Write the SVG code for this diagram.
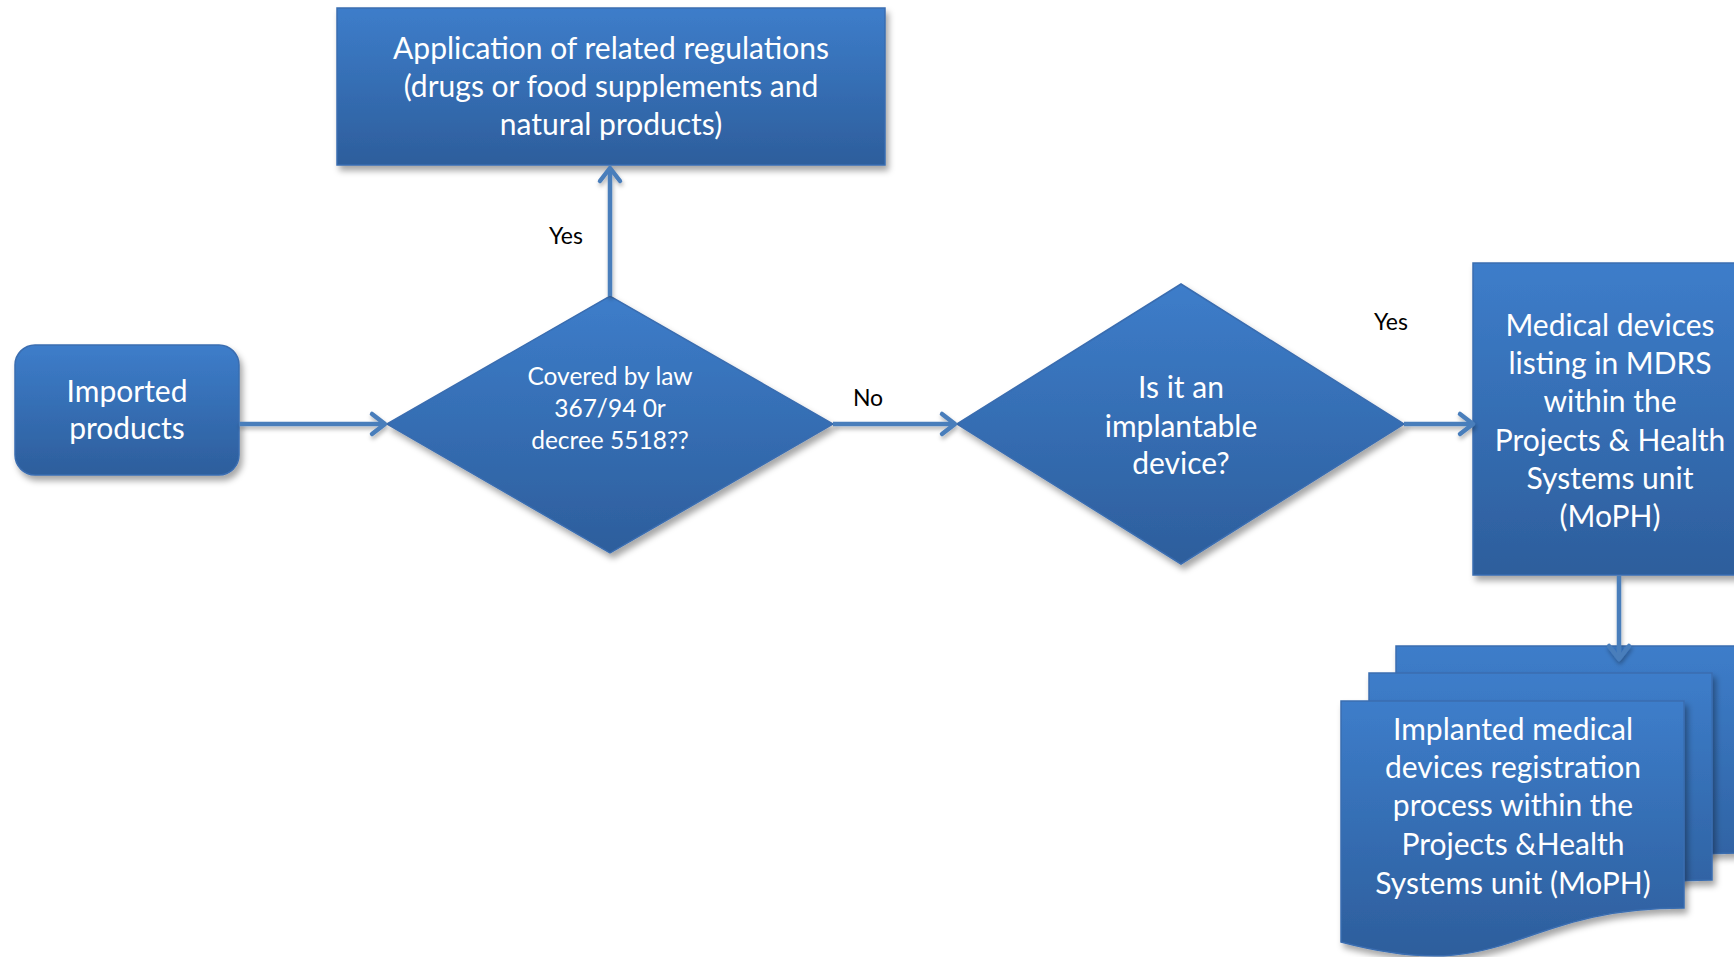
<svg xmlns="http://www.w3.org/2000/svg" width="1734" height="957" viewBox="0 0 1734 957">
<defs>
<linearGradient id="g" x1="0" y1="0" x2="0" y2="1">
<stop offset="0" stop-color="#3d7dca"/>
<stop offset="1" stop-color="#2d5e9c"/>
</linearGradient>
<filter id="sh" x="-10%" y="-10%" width="130%" height="130%">
<feDropShadow dx="3" dy="5" stdDeviation="3" flood-color="#000" flood-opacity="0.35"/>
</filter>
<filter id="lsh" x="-20%" y="-20%" width="140%" height="140%">
<feDropShadow dx="1" dy="3" stdDeviation="2" flood-color="#000" flood-opacity="0.3"/>
</filter>
<marker id="arr" markerUnits="userSpaceOnUse" markerWidth="30" markerHeight="30" viewBox="-16 -15 20 30" refX="0" refY="0" orient="auto">
<path d="M-13,-10 L0,0 L-13,10" fill="none" stroke="#4a7ebb" stroke-width="4.5" stroke-linecap="round" stroke-linejoin="round"/>
</marker>
<style>
.n{fill:url(#g);stroke:#3a6db0;stroke-width:1.5;filter:url(#sh)}
.t{font-family:Lato,"Open Sans","Liberation Sans",sans-serif;fill:#ffffff;text-anchor:middle;font-size:30px}
.s{font-size:24.5px}
.l{font-family:Lato,"Open Sans","Liberation Sans",sans-serif;fill:#000000;text-anchor:middle;font-size:23px}
.c{stroke:#4a7ebb;stroke-width:4.5;fill:none;marker-end:url(#arr)}
</style>
</defs>
<rect width="1734" height="957" fill="#ffffff"/>

<g id="imported">
<rect class="n" x="15" y="345" width="224" height="130" rx="20"/>
<text class="t" x="127" y="402">Imported</text>
<text class="t" x="127" y="439">products</text>
</g>

<g id="application">
<rect class="n" x="337" y="8" width="548" height="157"/>
<text class="t" x="611" y="59">Application of related regulations</text>
<text class="t" x="611" y="97">(drugs or food supplements and</text>
<text class="t" x="611" y="135">natural products)</text>
</g>

<g id="decision1">
<polygon class="n" points="387,424 610,296 833,424 610,553"/>
<text class="t s" x="610" y="385">Covered by law</text>
<text class="t s" x="610" y="417">367/94 0r</text>
<text class="t s" x="610" y="449">decree 5518??</text>
</g>

<g id="decision2">
<polygon class="n" points="957,424 1181,284 1404,424 1181,564"/>
<text class="t" x="1181" y="398">Is it an</text>
<text class="t" x="1181" y="437">implantable</text>
<text class="t" x="1181" y="474">device?</text>
</g>

<g id="listing">
<rect class="n" x="1473" y="263" width="276" height="312"/>
<text class="t" x="1610" y="336">Medical devices</text>
<text class="t" x="1610" y="374">listing in MDRS</text>
<text class="t" x="1610" y="412">within the</text>
<text class="t" x="1610" y="451">Projects &amp; Health</text>
<text class="t" x="1610" y="489">Systems unit</text>
<text class="t" x="1610" y="527">(MoPH)</text>
</g>

<g id="registration">
<path class="n" d="M1396,646 H1739 V853 C1567,853 1567,932 1396,887 Z"/>
<path class="n" d="M1369,673 H1712 V880 C1540,880 1540,959 1369,914 Z"/>
<path class="n" d="M1341,701 H1684 V908 C1512,908 1512,987 1341,942 Z"/>
<text class="t" x="1513" y="740">Implanted medical</text>
<text class="t" x="1513" y="778">devices registration</text>
<text class="t" x="1513" y="816">process within the</text>
<text class="t" x="1513" y="855">Projects &amp;Health</text>
<text class="t" x="1513" y="894">Systems unit (MoPH)</text>
</g>

<g id="connectors" filter="url(#lsh)">
<line class="c" x1="239" y1="424" x2="385" y2="424"/>
<line class="c" x1="610" y1="296" x2="610" y2="168"/>
<line class="c" x1="833" y1="424" x2="955" y2="424"/>
<line class="c" x1="1404" y1="424" x2="1473" y2="424"/>
<line class="c" x1="1619" y1="576" x2="1619" y2="659"/>
</g>

<g id="labels">
<text class="l" x="566" y="244">Yes</text>
<text class="l" x="868" y="406">No</text>
<text class="l" x="1391" y="330">Yes</text>
</g>
</svg>
